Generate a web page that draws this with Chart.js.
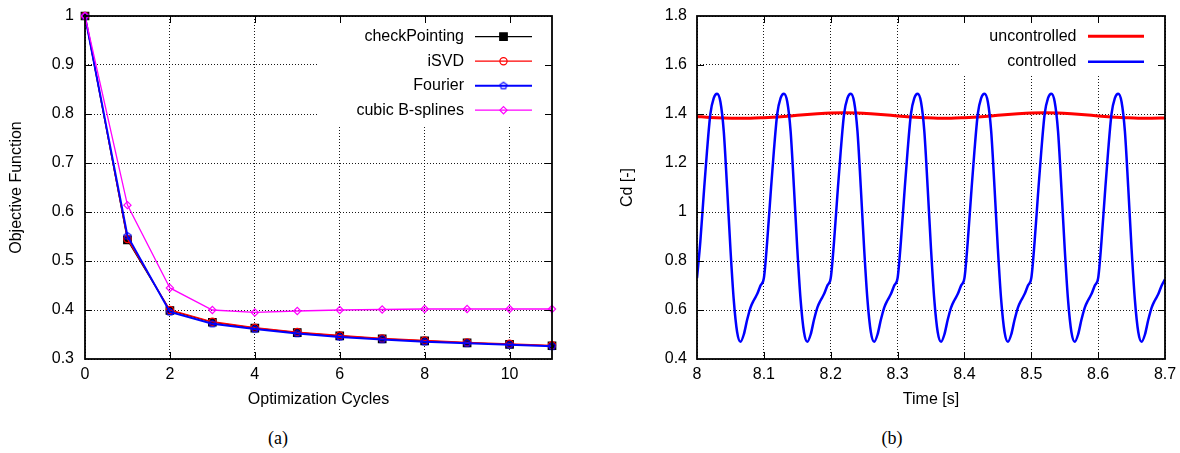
<!DOCTYPE html>
<html>
<head>
<meta charset="utf-8">
<script src="https://cdn.jsdelivr.net/npm/chart.js@4.4.0/dist/chart.umd.min.js"></script>
<style>
  html, body { margin: 0; padding: 0; background: #fff; }
  #page { position: relative; width: 1180px; height: 453px; overflow: hidden; }
  .panel { position: absolute; top: 0; width: 590px; height: 420px; }
  .caption { position: absolute; top: 428px; line-height: 20px; font-family: "Liberation Serif", serif; font-size: 18px; color: #000; transform: translateX(-50%); }
</style>
</head>
<body>
<div id="page">
  <div class="panel" style="left:0"><canvas id="chartA" width="590" height="420"></canvas></div>
  <div class="panel" style="left:590px"><canvas id="chartB" width="590" height="420"></canvas></div>
  <div class="caption" style="left:278px">(a)</div>
  <div class="caption" style="left:892px">(b)</div>
</div>
<script>
// ---- (a) objective function vs optimization cycles
var cycles = [0, 1, 2, 3, 4, 5, 6, 7, 8, 9, 10, 11];
var checkPointing = [1, 0.543, 0.399, 0.375, 0.363, 0.354, 0.347, 0.341, 0.337, 0.333, 0.330, 0.327];
var iSVD = [1, 0.545, 0.400, 0.376, 0.364, 0.355, 0.348, 0.342, 0.338, 0.334, 0.331, 0.328];
var fourier = [1, 0.551, 0.396, 0.372, 0.361, 0.352, 0.345, 0.340, 0.335, 0.332, 0.329, 0.326];
var bSplines = [1, 0.614, 0.445, 0.400, 0.395, 0.398, 0.400, 0.401, 0.402, 0.402, 0.402, 0.402];
var xTickValsA = [0, 2, 4, 6, 8, 10];
var xTickLabelsA = ['0', '2', '4', '6', '8', '10'];
var yTickValsA = [0.3, 0.4, 0.5, 0.6, 0.7, 0.8, 0.9, 1];
var yTickLabelsA = ['0.3', '0.4', '0.5', '0.6', '0.7', '0.8', '0.9', '1'];

// ---- (b) drag coefficient vs time
var tStart = 8.0;
var dtControlled = 0.005;
var cdControlled = [
  0.73, 0.88, 1.07, 1.25, 1.40, 1.465, 1.483, 1.45, 1.33, 1.10, 0.85, 0.64, 0.51, 0.47, 0.50, 0.56, 0.61, 0.64, 0.665, 0.70,
  0.73, 0.88, 1.07, 1.25, 1.40, 1.465, 1.483, 1.45, 1.33, 1.10, 0.85, 0.64, 0.51, 0.47, 0.50, 0.56, 0.61, 0.64, 0.665, 0.70,
  0.73, 0.88, 1.07, 1.25, 1.40, 1.465, 1.483, 1.45, 1.33, 1.10, 0.85, 0.64, 0.51, 0.47, 0.50, 0.56, 0.61, 0.64, 0.665, 0.70,
  0.73, 0.88, 1.07, 1.25, 1.40, 1.465, 1.483, 1.45, 1.33, 1.10, 0.85, 0.64, 0.51, 0.47, 0.50, 0.56, 0.61, 0.64, 0.665, 0.70,
  0.73, 0.88, 1.07, 1.25, 1.40, 1.465, 1.483, 1.45, 1.33, 1.10, 0.85, 0.64, 0.51, 0.47, 0.50, 0.56, 0.61, 0.64, 0.665, 0.70,
  0.73, 0.88, 1.07, 1.25, 1.40, 1.465, 1.483, 1.45, 1.33, 1.10, 0.85, 0.64, 0.51, 0.47, 0.50, 0.56, 0.61, 0.64, 0.665, 0.70,
  0.73, 0.88, 1.07, 1.25, 1.40, 1.465, 1.483, 1.45, 1.33, 1.10, 0.85, 0.64, 0.51, 0.47, 0.50, 0.56, 0.61, 0.64, 0.665, 0.70,
  0.725
];
var dtUncontrolled = 0.02;
var cdUncontrolled = [
  1.390, 1.386, 1.384, 1.383, 1.383, 1.385, 1.388, 1.392, 1.397, 1.401, 1.404, 1.405,
  1.404, 1.401, 1.397, 1.392, 1.388, 1.385, 1.383, 1.383, 1.385, 1.388, 1.392, 1.397,
  1.401, 1.404, 1.405, 1.404, 1.401, 1.397, 1.392, 1.388, 1.385, 1.383, 1.383, 1.384
];
var xTickValsB = [8, 8.1, 8.2, 8.3, 8.4, 8.5, 8.6, 8.7];
var xTickLabelsB = ['8', '8.1', '8.2', '8.3', '8.4', '8.5', '8.6', '8.7'];
var yTickValsB = [0.4, 0.6, 0.8, 1, 1.2, 1.4, 1.6, 1.8];
var yTickLabelsB = ['0.4', '0.6', '0.8', '1', '1.2', '1.4', '1.6', '1.8'];

Chart.defaults.font.family = '"Liberation Sans", Arial, sans-serif';
Chart.defaults.font.size = 16;
Chart.defaults.color = '#000';

var gridColor = 'rgba(0,0,0,0.9)';

const toPoints = (xs, ys) => ys.map((y, i) => ({ x: xs[i], y: y }));
const sampled = (t0, dt, ys) => ys.map((y, i) => ({ x: +(t0 + i * dt).toFixed(4), y: y }));

const pentagon = (color, r, lw) => {
    let c = document.createElement('canvas');
    let s = Math.ceil(2 * r + 2 * lw + 2);
    c.width = s; c.height = s;
    let g = c.getContext('2d');
    g.strokeStyle = color; g.lineWidth = lw;
    g.beginPath();
    for (let k = 0; k < 5; k++) {
        let a = -Math.PI / 2 + k * 2 * Math.PI / 5;
        let px = s / 2 + r * Math.cos(a), py = s / 2 + r * Math.sin(a);
        k ? g.lineTo(px, py) : g.moveTo(px, py);
    }
    g.closePath(); g.stroke();
    return c;
}

const drawMarker = (ctx, ds, x, y) => {
    let r = ds.pointRadius, st = ds.pointStyle;
    ctx.save();
    ctx.lineWidth = ds.pointBorderWidth || 1;
    ctx.strokeStyle = ds.pointBorderColor || ds.borderColor;
    ctx.fillStyle = ds.pointBackgroundColor;
    if (st instanceof HTMLCanvasElement) {
        ctx.drawImage(st, x - st.width / 2, y - st.height / 2);
    } else {
        ctx.beginPath();
        if (st === 'rect') {
            let s = r * Math.SQRT1_2;
            ctx.rect(x - s, y - s, 2 * s, 2 * s);
        } else if (st === 'rectRot') {
            ctx.moveTo(x - r, y); ctx.lineTo(x, y - r); ctx.lineTo(x + r, y); ctx.lineTo(x, y + r); ctx.closePath();
        } else {
            ctx.arc(x, y, r, 0, Math.PI * 2);
        }
        ctx.fill(); ctx.stroke();
    }
    ctx.restore();
}

// gnuplot look: opaque key box, closed frame, inward mirrored ticks, key on the right
const gnuplotFrame = {
    id: 'gnuplotFrame',
    beforeDatasetsDraw(chart, args, o) {
        const { ctx, chartArea: a } = chart;
        ctx.save();
        ctx.fillStyle = '#fff';
        ctx.fillRect(a.right - o.keyWidth, a.top + 1, o.keyWidth - 1, o.keyHeight);
        ctx.restore();
    },
    afterDraw(chart, args, o) {
        const { ctx, chartArea: a, scales } = chart;
        ctx.save();
        ctx.strokeStyle = '#000';
        ctx.lineWidth = 1;
        ctx.beginPath();
        for (const t of scales.x.ticks) {
            let px = Math.round(scales.x.getPixelForValue(t.value)) + 0.5;
            if (px <= a.left + 2 || px >= a.right - 2) continue;
            ctx.moveTo(px, a.bottom); ctx.lineTo(px, a.bottom - o.tickLen);
            ctx.moveTo(px, a.top); ctx.lineTo(px, a.top + o.tickLen);
        }
        for (const t of scales.y.ticks) {
            let py = Math.round(scales.y.getPixelForValue(t.value)) + 0.5;
            if (py <= a.top + 2 || py >= a.bottom - 2) continue;
            ctx.moveTo(a.left, py); ctx.lineTo(a.left + o.tickLen, py);
            ctx.moveTo(a.right, py); ctx.lineTo(a.right - o.tickLen, py);
        }
        ctx.stroke();
        ctx.lineWidth = 1.8;
        ctx.strokeRect(a.left, a.top, a.right - a.left, a.bottom - a.top);

        ctx.font = '16px "Liberation Sans", Arial, sans-serif';
        ctx.textAlign = 'right';
        ctx.textBaseline = 'middle';
        chart.data.datasets.forEach((ds, i) => {
            let y = a.top + o.keyTop + i * o.keyRow;
            let xEnd = a.right - o.keyRight;
            let xStart = xEnd - o.sampleLen;
            ctx.fillStyle = '#000';
            ctx.fillText(ds.label, xStart - o.keyGap, y);
            ctx.strokeStyle = ds.borderColor;
            ctx.lineWidth = ds.borderWidth;
            ctx.beginPath(); ctx.moveTo(xStart, y); ctx.lineTo(xEnd, y); ctx.stroke();
            if (ds.pointRadius > 0) drawMarker(ctx, ds, (xStart + xEnd) / 2, y);
        });
        ctx.restore();
    }
};

const axis = (min, max, vals, labels, title, size, tickPad, titlePad, horizontal) => ({
    type: 'linear',
    min: min,
    max: max,
    afterBuildTicks: (s) => { s.ticks = vals.map(v => ({ value: v })); },
    afterFit: (s) => {
        if (horizontal) s.height = size; else s.width = size;
        // layout.padding alone decides where the plot frame sits
        s.paddingTop = s.paddingBottom = s.paddingLeft = s.paddingRight = 0;
    },
    grid: { color: gridColor, lineWidth: 1, drawTicks: false },
    border: { display: false, dash: [1, 2] },
    ticks: { padding: tickPad, autoSkip: false, maxRotation: 0, callback: (v, i) => labels[i] },
    title: { display: true, text: title, padding: titlePad }
});

// ---- chart (a)
var markerA = (label, ys, color, width, style, radius, fill, order) => ({
    label: label,
    data: toPoints(cycles, ys),
    borderColor: color,
    borderWidth: width,
    pointStyle: style,
    pointRadius: radius,
    pointBorderWidth: 1.2,
    pointBorderColor: color,
    pointBackgroundColor: fill,
    clip: false,
    order: order,
    tension: 0
});

new Chart(document.getElementById('chartA'), {
    type: 'line',
    data: {
        datasets: [
            markerA('checkPointing', checkPointing, '#000000', 1.2, 'rect', 5.3, '#000000', 4),
            markerA('iSVD', iSVD, '#ff0000', 1.3, 'circle', 3.6, 'rgba(0,0,0,0)', 3),
            markerA('Fourier', fourier, '#0000ff', 2, pentagon('#0000ff', 3.6, 1.2), 3.6, 'rgba(0,0,0,0)', 2),
            markerA('cubic B-splines', bSplines, '#ff00ff', 1.3, 'rectRot', 3.6, 'rgba(0,0,0,0)', 1)
        ]
    },
    options: {
        responsive: false,
        animation: false,
        events: [],
        layout: { padding: { left: 0, top: 16, right: 38, bottom: 5 } },
        plugins: {
            legend: { display: false },
            tooltip: { enabled: false },
            gnuplotFrame: { keyWidth: 235, keyHeight: 108, tickLen: 7, keyTop: 20.7, keyRow: 24.5, keyRight: 20, sampleLen: 57, keyGap: 11 }
        },
        scales: {
            x: axis(0, 11, xTickValsA, xTickLabelsA, 'Optimization Cycles', 56, 6, { top: 0, bottom: 6 }, true),
            y: axis(0.3, 1, yTickValsA, yTickLabelsA, 'Objective Function', 85, 11, { top: 7, bottom: 0 }, false)
        }
    },
    plugins: [gnuplotFrame]
});

// ---- chart (b)
new Chart(document.getElementById('chartB'), {
    type: 'line',
    data: {
        datasets: [{
            label: 'uncontrolled',
            data: sampled(tStart, dtUncontrolled, cdUncontrolled),
            borderColor: '#ff0000',
            borderWidth: 3,
            pointRadius: 0,
            cubicInterpolationMode: 'monotone',
            order: 2
        }, {
            label: 'controlled',
            data: sampled(tStart, dtControlled, cdControlled),
            borderColor: '#0000ff',
            borderWidth: 2.5,
            pointRadius: 0,
            cubicInterpolationMode: 'monotone',
            order: 1
        }]
    },
    options: {
        responsive: false,
        animation: false,
        events: [],
        layout: { padding: { left: 0, top: 16, right: 15, bottom: 5 } },
        plugins: {
            legend: { display: false },
            tooltip: { enabled: false },
            gnuplotFrame: { keyWidth: 204, keyHeight: 59, tickLen: 7, keyTop: 20.3, keyRow: 25.5, keyRight: 21, sampleLen: 56, keyGap: 11.5 }
        },
        scales: {
            x: axis(8, 8.7, xTickValsB, xTickLabelsB, 'Time [s]', 56, 6, { top: 0, bottom: 6 }, true),
            y: axis(0.4, 1.8, yTickValsB, yTickLabelsB, 'Cd [-]', 107, 10, { top: 28, bottom: 0 }, false)
        }
    },
    plugins: [gnuplotFrame]
});
</script>
</body>
</html>
